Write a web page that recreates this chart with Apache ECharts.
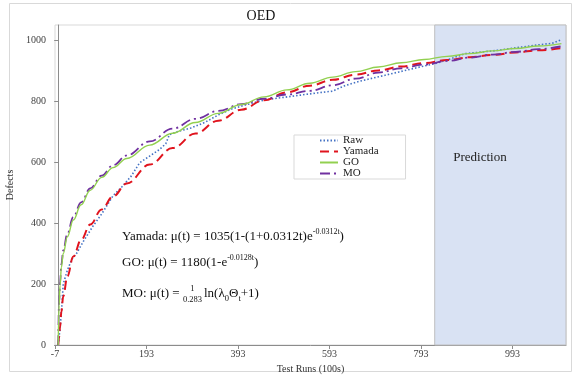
<!DOCTYPE html>
<html>
<head>
<meta charset="utf-8">
<script src="https://cdn.jsdelivr.net/npm/echarts@6/dist/echarts.min.js"></script>
<style>
html, body { margin: 0; padding: 0; background: #fff; }
#chart { width: 573px; height: 375px; }
</style>
</head>
<body>
<div id="chart"></div>
<script>
// tick labels
var xTicks = [-7, 193, 393, 593, 793, 993];
var yTicks = [0, 200, 400, 600, 800, 1000];

// observed defects (Raw)
var rawX = [0, 2, 4, 8, 11, 20, 29, 40, 55, 76, 95, 120, 140, 160, 178, 200, 220, 235, 243, 260, 290, 320, 350, 380, 420, 454, 490, 530, 570, 600, 625, 660, 700, 745, 790, 825, 860, 889, 950, 1000, 1050, 1080, 1100];
var rawY = [0, 30, 50, 130, 200, 245, 279, 300, 340, 390, 430, 490, 520, 555, 598, 620, 640, 660, 690, 700, 712, 730, 755, 775, 792, 805, 812, 820, 828, 833, 850, 866, 880, 896, 912, 924, 940, 956, 965, 975, 985, 990, 1002];

// model curves
var modelX = [0, 2, 4, 7, 11, 20, 33, 50, 70, 95, 120, 150, 200, 250, 300, 350, 400, 450, 500, 550, 600, 650, 700, 750, 800, 850, 900, 950, 1000, 1050, 1100];
var yamadaY = [0, 25, 60, 110, 160, 225, 290, 345, 395, 445, 488, 530, 592, 646, 694, 736, 772, 803, 829, 851, 870, 887, 901, 914, 925, 935, 944, 952, 960, 967, 974];
var goY = [0, 130, 195, 255, 300, 355, 410, 460, 508, 550, 582, 612, 656, 695, 730, 760, 789, 814, 837, 859, 879, 897, 912, 926, 937, 947, 956, 965, 973, 981, 989];
var moY = [0, 140, 205, 265, 310, 365, 420, 468, 514, 556, 590, 622, 668, 710, 742, 768, 790, 808, 822, 834, 852, 874, 894, 908, 920, 932, 943, 953, 962, 971, 980];

var predStart = 823;
var xMin = -7, xMax = 1110;
var yMax = 1050;

function pairs(xs, ys) {
    var out = [];
    for (var i = 0; i < xs.length; i++) out.push([xs[i], ys[i]]);
    return out;
}

var SERIF = '"Liberation Serif", "Times New Roman", serif';

// text widths for placing the MO fraction
var ctx = document.createElement('canvas').getContext('2d');
function textW(str, size) {
    ctx.font = size + 'px "Liberation Serif"';
    return ctx.measureText(str).width;
}
var eqX = 122;
var moHead = 'MO: μ(t) = ';
var w1 = textW(moHead, 13);
var wf = textW('0.283', 8.5);

var chart = echarts.init(document.getElementById('chart'));

var option = {
    animation: false,
    grid: {
        left: 55, right: 7, top: 25, bottom: 30,
        outerBoundsMode: 'none',
        containLabel: false,
        show: true, borderColor: '#d9d9d9', borderWidth: 1
    },
    legend: {
        data: ['Raw', 'Yamada', 'GO', 'MO'],
        orient: 'vertical',
        left: 294, top: 135,
        padding: [0, 27, 0, 25],
        itemGap: 0,
        itemWidth: 18, itemHeight: 10,
        itemStyle: { opacity: 0 },
        borderColor: '#d9d9d9', borderWidth: 1,
        backgroundColor: '#fff',
        textStyle: { fontFamily: SERIF, fontSize: 11, color: '#222', lineHeight: 10 }
    },
    xAxis: {
        type: 'value',
        min: xMin, max: xMax,
        name: 'Test Runs (100s)',
        nameLocation: 'middle', nameGap: 16,
        nameTextStyle: { fontFamily: SERIF, fontSize: 10, color: '#333' },
        axisLine: { lineStyle: { color: '#8c8c8c' } },
        axisTick: { show: true, length: 4, customValues: xTicks, lineStyle: { color: '#8c8c8c' } },
        axisLabel: {
            customValues: xTicks, margin: 4,
            fontFamily: SERIF, fontSize: 10, color: '#404040',
            formatter: function (v) { return xTicks.indexOf(v) >= 0 ? String(v) : ''; }
        },
        splitLine: { show: false }
    },
    yAxis: {
        type: 'value',
        min: 0, max: yMax,
        name: 'Defects',
        nameLocation: 'middle', nameGap: 38,
        nameTextStyle: { fontFamily: SERIF, fontSize: 10, color: '#333' },
        axisLine: { show: true, lineStyle: { color: '#8c8c8c' } },
        axisTick: { show: true, length: 4, customValues: yTicks, lineStyle: { color: '#8c8c8c' } },
        axisLabel: {
            customValues: yTicks, margin: 9,
            fontFamily: SERIF, fontSize: 10, color: '#404040',
            formatter: function (v) { return yTicks.indexOf(v) >= 0 ? String(v) : ''; }
        },
        splitLine: { show: false }
    },
    series: [
        {
            name: 'prediction',
            type: 'line',
            data: [],
            z: 1,
            markArea: {
                silent: true,
                itemStyle: { color: '#d9e2f3', borderColor: '#bfbfbf', borderWidth: 1 },
                data: [[{ xAxis: predStart }, { xAxis: xMax }]]
            }
        },
        {
            name: 'Raw',
            type: 'line',
            data: pairs(rawX, rawY),
            symbol: 'none', showSymbol: false,
            z: 3,
            lineStyle: { color: '#4472c4', width: 1.6, type: [1.5, 2] },
            itemStyle: { color: '#4472c4' }
        },
        {
            name: 'Yamada',
            type: 'line',
            data: pairs(modelX, yamadaY),
            symbol: 'none', showSymbol: false,
            smooth: 0.4, smoothMonotone: 'x',
            z: 4,
            lineStyle: { color: '#e0141e', width: 2, type: [9, 5] },
            itemStyle: { color: '#e0141e' }
        },
        {
            name: 'GO',
            type: 'line',
            data: pairs(modelX, goY),
            symbol: 'none', showSymbol: false,
            smooth: 0.4, smoothMonotone: 'x',
            z: 5,
            lineStyle: { color: '#92d050', width: 1.4 },
            itemStyle: { color: '#92d050' }
        },
        {
            name: 'MO',
            type: 'line',
            data: pairs(modelX, moY),
            symbol: 'none', showSymbol: false,
            smooth: 0.4, smoothMonotone: 'x',
            z: 4,
            lineStyle: { color: '#7030a0', width: 1.8, type: [10, 4, 2, 4] },
            itemStyle: { color: '#7030a0' }
        }
    ],
    graphic: [
        {
            type: 'rect', silent: true, z: -10,
            shape: { x: 9.5, y: 3.5, width: 562, height: 368 },
            style: { fill: 'none', stroke: '#d9d9d9', lineWidth: 1 }
        },
        {
            type: 'text', silent: true,
            style: { text: 'OED', x: 261, y: 16, align: 'center', verticalAlign: 'middle',
                     font: '14px ' + SERIF, fill: '#111' }
        },
        {
            type: 'text', silent: true, z: 10,
            style: { text: 'Prediction', x: 480, y: 158, align: 'center', verticalAlign: 'middle',
                     font: '13px ' + SERIF, fill: '#222' }
        },
        {
            type: 'text', silent: true, z: 10,
            style: {
                text: '{n|Yamada: μ(t) = 1035(1-(1+0.0312t)e}{s|-0.0312t}{n|)}',
                x: eqX, y: 237, verticalAlign: 'middle',
                rich: {
                    n: { fontFamily: SERIF, fontSize: 13, lineHeight: 18, fill: '#111' },
                    s: { fontFamily: SERIF, fontSize: 8, lineHeight: 8, verticalAlign: 'top', fill: '#111' }
                }
            }
        },
        {
            type: 'text', silent: true, z: 10,
            style: {
                text: '{n|GO: μ(t) = 1180(1-e}{s|-0.0128t}{n|)}',
                x: eqX, y: 263, verticalAlign: 'middle',
                rich: {
                    n: { fontFamily: SERIF, fontSize: 13, lineHeight: 18, fill: '#111' },
                    s: { fontFamily: SERIF, fontSize: 8, lineHeight: 8, verticalAlign: 'top', fill: '#111' }
                }
            }
        },
        {
            type: 'text', silent: true, z: 10,
            style: { text: moHead, x: eqX, y: 294, verticalAlign: 'middle',
                     font: '13px ' + SERIF, fill: '#111' }
        },
        {
            type: 'text', silent: true, z: 10,
            style: { text: '1', x: eqX + w1 + wf / 2, y: 289, align: 'center', verticalAlign: 'middle',
                     font: '8.5px ' + SERIF, fill: '#111' }
        },
        {
            type: 'text', silent: true, z: 10,
            style: { text: '0.283', x: eqX + w1 + wf / 2, y: 300, align: 'center', verticalAlign: 'middle',
                     font: '8.5px ' + SERIF, fill: '#111' }
        },
        {
            type: 'text', silent: true, z: 10,
            style: {
                text: '{n|ln(λ}{b|0}{n|Θ}{b|t}{n|+1)}',
                x: eqX + w1 + wf + 2, y: 294, verticalAlign: 'middle',
                rich: {
                    n: { fontFamily: SERIF, fontSize: 13, lineHeight: 18, fill: '#111' },
                    b: { fontFamily: SERIF, fontSize: 8.5, lineHeight: 10, verticalAlign: 'bottom', fill: '#111' }
                }
            }
        }
    ]
};

chart.setOption(option);
</script>
</body>
</html>
